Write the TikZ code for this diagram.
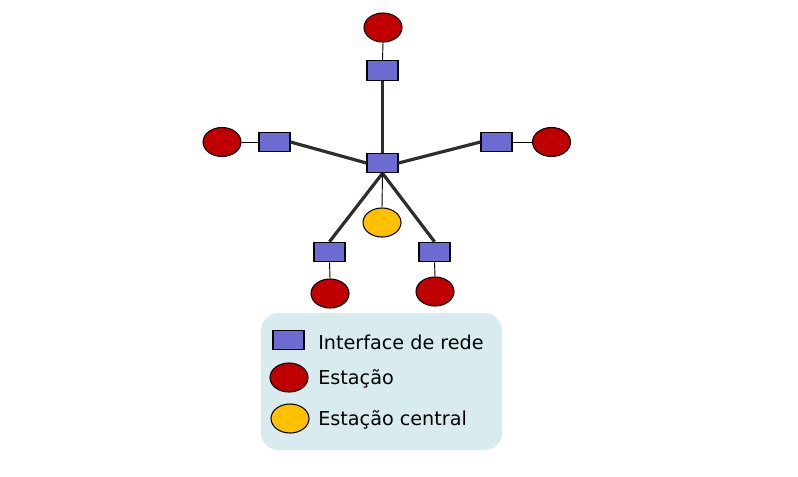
\documentclass[tikz,border=0pt]{standalone}
\usepackage{fontspec}
\setmainfont{DejaVu Sans}
\usetikzlibrary{shapes.geometric}
\definecolor{ifblue}{RGB}{107,107,209}
\definecolor{stred}{RGB}{192,0,0}
\definecolor{styellow}{RGB}{255,192,0}
\definecolor{legbg}{RGB}{216,236,240}
\definecolor{linkgray}{RGB}{45,45,45}
\tikzset{
  iface/.style={rectangle,draw=black,line width=0.8pt,fill=ifblue,minimum width=31*0.75pt,minimum height=19.5*0.75pt,inner sep=0pt},
  station/.style={ellipse,draw=black,line width=0.8pt,fill=stred,minimum width=38*0.75pt,minimum height=29*0.75pt,inner sep=0pt},
  central/.style={station,fill=styellow},
  trunk/.style={draw=linkgray,line width=2.4pt},
  drop/.style={draw=black,line width=0.7pt},
  legtext/.style={anchor=west,font=\fontsize{14.4}{16}\selectfont,inner sep=0pt}
}
\begin{document}
\begin{tikzpicture}[x=0.75pt,y=-0.75pt]
\useasboundingbox (0,0) rectangle (798,476);
% legend background
\fill[legbg,rounded corners=13pt] (261,313) rectangle (502,450);
% nodes
\node[iface] (c) at (382.5,163) {};
\node[iface] (it) at (382.5,70.5) {};
\node[iface] (il) at (274.5,142) {};
\node[iface] (ir) at (496.5,142) {};
\node[iface] (ibl) at (329.5,252) {};
\node[iface] (ibr) at (434.5,252) {};
\node[station] (st) at (383,27.5) {};
\node[station] (sl) at (222,142) {};
\node[station] (sr) at (551.5,142) {};
\node[station] (sbl) at (330,293.5) {};
\node[station] (sbr) at (435,291.5) {};
\node[central] (sc) at (382,222.5) {};
% trunk links
\draw[trunk] (it.south) -- (c.north);
\draw[trunk] (il.east) -- (c.west);
\draw[trunk] (ir.west) -- (c.east);
\draw[trunk] (c.south) -- (ibl.north);
\draw[trunk] (c.south) -- (ibr.north);
% drops
\draw[drop] (st.south) -- (it.north);
\draw[drop] (sl.east) -- (il.west);
\draw[drop] (sr.west) -- (ir.east);
\draw[drop] (ibl.south) -- (sbl.north);
\draw[drop] (ibr.south) -- (sbr.north);
\draw[drop] (c.south) -- (sc.north);
% legend
\node[iface] (lgi) at (288.5,340) {};
\node[station] (lgs) at (289,377.5) {};
\node[central] (lgc) at (290,418.5) {};
\node[legtext] (lt1) at (318,342) {Interface de rede};
\node[legtext] (lt2) at (318,379) {Estação};
\node[legtext] (lt3) at (318,420) {Estação central};
\end{tikzpicture}
\end{document}
